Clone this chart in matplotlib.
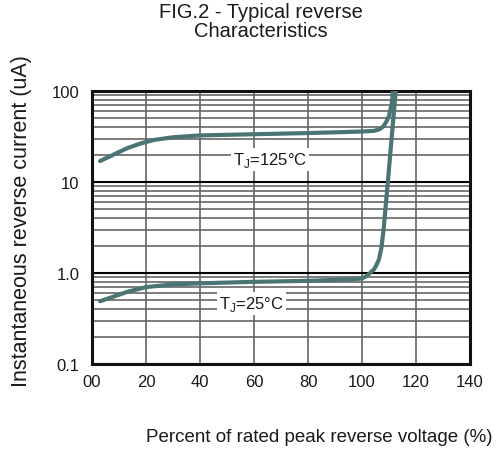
import matplotlib
matplotlib.use("Agg")
import matplotlib.pyplot as plt
from matplotlib.ticker import LogLocator, NullFormatter, FixedLocator, FixedFormatter

plt.rcParams['font.family'] = ['Liberation Sans', 'DejaVu Sans']

# Data
x_125 = [3, 8, 13, 18, 23, 30, 40, 60, 80, 95, 101, 104.5, 106.5, 108, 109, 110, 111, 111.5]
y_125 = [17, 20, 23.5, 26.5, 29, 31, 32.5, 33.5, 34.5, 35.5, 36, 36.5, 38, 41, 46, 53, 72, 100]

x_25 = [3, 8, 13, 20, 30, 40, 60, 80, 95, 100, 101.5, 103, 104.5, 105.5, 106.3, 107.2, 108, 109.5, 111, 112.5]
y_25 = [0.49, 0.55, 0.62, 0.70, 0.75, 0.77, 0.80, 0.82, 0.85, 0.87, 0.92, 1.0, 1.1, 1.25, 1.42, 1.9, 3.0, 9.5, 31, 100]

x_ticks = [0, 20, 40, 60, 80, 100, 120, 140]
x_tick_labels = ['00', '20', '40', '60', '80', '100', '120', '140']
y_ticks = [0.1, 1, 10, 100]
y_tick_labels = ['0.1', '1.0', '10', '100']

curve_color = '#4a7574'
text_color = '#1a1a1a'

W, H = 500, 456
fig = plt.figure(figsize=(W / 100, H / 100), dpi=100)
ax = fig.add_axes([92 / W, 1 - 365 / H, (470 - 92) / W, (365 - 92) / H])
ax.set_yscale('log')
ax.set_xlim(0, 140)
ax.set_ylim(0.1, 100)

ax.xaxis.set_major_locator(FixedLocator(x_ticks))
ax.xaxis.set_major_formatter(FixedFormatter(x_tick_labels))
ax.yaxis.set_major_locator(FixedLocator(y_ticks))
ax.yaxis.set_major_formatter(FixedFormatter(y_tick_labels))
ax.yaxis.set_minor_locator(LogLocator(base=10, subs=[2, 3, 4, 5, 6, 7, 8, 9]))
ax.yaxis.set_minor_formatter(NullFormatter())

ax.tick_params(which='both', length=0, labelsize=12, colors=text_color)
ax.tick_params(axis='x', pad=7)
ax.tick_params(axis='y', pad=9)

ax.grid(which='major', axis='y', color='black', lw=1.5, zorder=1)
ax.grid(which='minor', axis='y', color='#666666', lw=1.2, zorder=1)
ax.grid(which='major', axis='x', color='#666666', lw=1.2, zorder=1)
ax.set_axisbelow(True)

for s in ax.spines.values():
    s.set_linewidth(2.2)
    s.set_color('#111111')

ax.plot(x_125, y_125, color=curve_color, lw=3, solid_joinstyle='round', solid_capstyle='round', zorder=3)
ax.plot(x_25, y_25, color=curve_color, lw=3, solid_joinstyle='round', solid_capstyle='round', zorder=3)

bbox = dict(facecolor='white', edgecolor='none', pad=1.5)
ax.text(66, 17.8, r'T$_\mathregular{J}$=125°C', ha='center', va='center', fontsize=12,
        color=text_color, bbox=bbox, zorder=4)
ax.text(59, 0.46, r'T$_\mathregular{J}$=25°C', ha='center', va='center', fontsize=12,
        color=text_color, bbox=bbox, zorder=4)

fig.text(261 / W, 1 - 22 / H, 'FIG.2 - Typical reverse\nCharacteristics', ha='center', va='center',
         fontsize=14.5, color=text_color, linespacing=1.0)
fig.text(22 / W, 1 - 221 / H, 'Instantaneous reverse current (uA)', ha='center', va='center',
         rotation=90, fontsize=15.5, color=text_color)
fig.text(319 / W, 1 - 438 / H, 'Percent of rated peak reverse voltage (%)', ha='center', va='center',
         fontsize=13.5, color=text_color)

fig.savefig('out.png', dpi=100)
